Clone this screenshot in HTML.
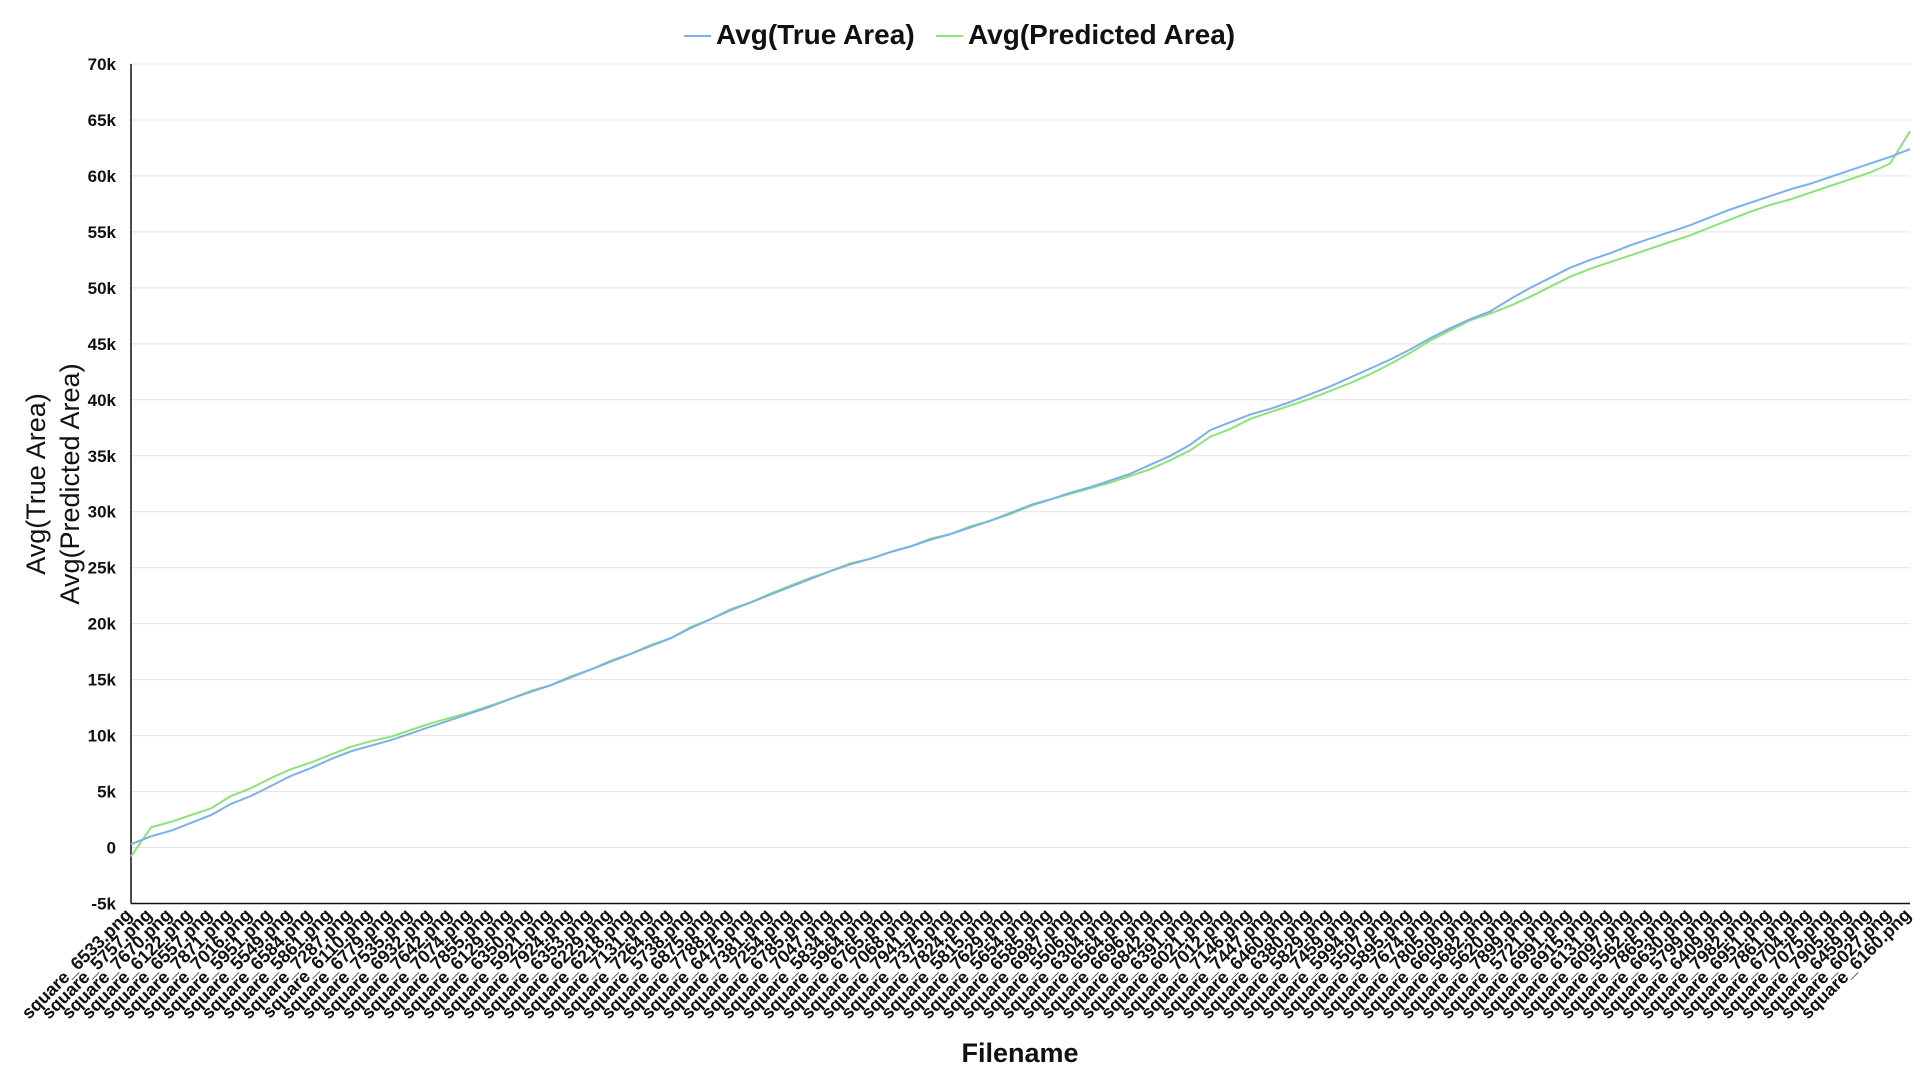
<!DOCTYPE html>
<html><head><meta charset="utf-8"><style>
html,body{margin:0;padding:0;background:#fff;width:1920px;height:1080px;overflow:hidden}
svg{display:block;font-family:"Liberation Sans",sans-serif}
</style></head><body>
<svg id="chart" width="1920" height="1080"></svg>
<script>
const categories=["6533","5757","7670","6122","6557","7871","7016","5951","5549","6584","5861","7287","6110","6779","7535","6932","7642","7074","7855","6129","6350","5921","7924","6353","6229","6218","7131","7264","5738","6875","7788","6475","7381","7254","6785","7047","5834","5964","6765","7068","7941","7375","7824","5815","7629","5654","6585","6987","5506","6304","6564","6696","6842","6391","6021","7012","7146","7447","6460","6380","5829","7459","5994","5507","5895","7674","7805","6609","5682","5620","7899","5721","6991","6915","6131","6097","5562","7865","6630","5799","6409","7982","6951","7861","6704","7075","7905","6459","6027","6160"].map(s=>"square_"+s+".png");
const trueArea=[300,1000,1500,2200,2900,3900,4600,5500,6400,7100,7900,8600,9100,9600,10200,10800,11400,12000,12600,13300,13900,14500,15200,15900,16600,17300,18000,18700,19600,20400,21200,21900,22600,23300,24000,24700,25300,25800,26400,26900,27500,28000,28600,29200,29900,30600,31100,31700,32200,32800,33400,34200,35000,36000,37300,38000,38700,39200,39800,40500,41200,42000,42800,43600,44500,45500,46400,47200,47900,49000,50000,50900,51800,52500,53100,53800,54400,55000,55600,56300,57000,57600,58200,58800,59300,59900,60500,61100,61700,62400];
const predArea=[-800,1800,2300,2900,3500,4600,5300,6200,7000,7600,8300,9000,9500,9900,10500,11100,11600,12100,12700,13300,14000,14500,15300,15900,16700,17300,18100,18700,19700,20400,21300,21900,22700,23400,24100,24700,25400,25800,26400,26900,27600,28000,28700,29200,29800,30500,31100,31600,32100,32600,33200,33800,34600,35500,36700,37400,38300,38900,39500,40100,40800,41500,42300,43200,44200,45300,46200,47100,47700,48400,49200,50100,51000,51700,52300,52900,53500,54100,54700,55400,56100,56800,57400,57900,58500,59100,59700,60300,61100,64000];
const yTicks=[-5000,0,5000,10000,15000,20000,25000,30000,35000,40000,45000,50000,55000,60000,65000,70000];
const yTickLabels=["-5k","0","5k","10k","15k","20k","25k","30k","35k","40k","45k","50k","55k","60k","65k","70k"];

const NS="http://www.w3.org/2000/svg";
const svg=document.getElementById('chart');
const X0=131,X1=1910,Y0=903.5,Y1=64;
const yMin=-5000,yMax=70000;
function xs(i){return X0+i*(X1-X0)/(categories.length-1);}
function ys(v){return Y0-(v-yMin)/(yMax-yMin)*(Y0-Y1);}
function mk(tag,attrs,parent){const e=document.createElementNS(NS,tag);for(const k in attrs)e.setAttribute(k,attrs[k]);(parent||svg).appendChild(e);return e;}

yTicks.forEach((t,i)=>{
  const g=mk('line',{x1:X0,x2:X1,y1:ys(t),y2:ys(t),stroke:'#e3e3e3','stroke-width':1});
  
  
  const tx=mk('text',{x:116,y:ys(t)+6,'text-anchor':'end','font-size':17,'font-weight':'bold',fill:'#111'});
  tx.textContent=yTickLabels[i];
  
  
});
const ya=mk('line',{x1:X0,x2:X0,y1:Y1,y2:Y0,stroke:'#111','stroke-width':1.5});


const xa=mk('line',{x1:X0,x2:X1,y1:Y0,y2:Y0,stroke:'#111','stroke-width':1.5});



categories.forEach((c,i)=>{
  const x=xs(i)+2,y=916;
  const t=mk('text',{x:x,y:y,'text-anchor':'end','font-size':18,'font-weight':'bold',fill:'#111',transform:`rotate(-45 ${x} ${y})`});
  t.textContent=c;
  
  
});

function series(vals,color,name){
  const d=vals.map((v,i)=>(i?'L':'M')+xs(i).toFixed(1)+' '+ys(v).toFixed(1)).join(' ');
  const p=mk('path',{d:d,fill:'none',stroke:color,'stroke-width':2,'stroke-linejoin':'round'});
  
  
}
series(predArea,'#8de27a','predicted-area-line');
series(trueArea,'#7bb0ea','true-area-line');

function legend(x,color,label,name){
  const g=mk('g',{});
  
  
  mk('line',{x1:x,x2:x+27,y1:36,y2:36,stroke:color,'stroke-width':2},g);
  const t=mk('text',{x:x+32,y:44,'font-size':28,'font-weight':'bold',fill:'#111'},g);
  t.textContent=label;
}
legend(684,'#7bb0ea','Avg(True Area)','legend-entry-true-area');
legend(936,'#8de27a','Avg(Predicted Area)','legend-entry-predicted-area');

const yt1=mk('text',{x:0,y:0,'text-anchor':'middle','font-size':27,fill:'#111',transform:'translate(45 484) rotate(-90)'});
yt1.textContent='Avg(True Area)';


const yt2=mk('text',{x:0,y:0,'text-anchor':'middle','font-size':27,fill:'#111',transform:'translate(79 484) rotate(-90)'});
yt2.textContent='Avg(Predicted Area)';


const xt=mk('text',{x:1020,y:1062,'text-anchor':'middle','font-size':27,'font-weight':'bold',fill:'#111'});
xt.textContent='Filename';


</script>
</body></html>
